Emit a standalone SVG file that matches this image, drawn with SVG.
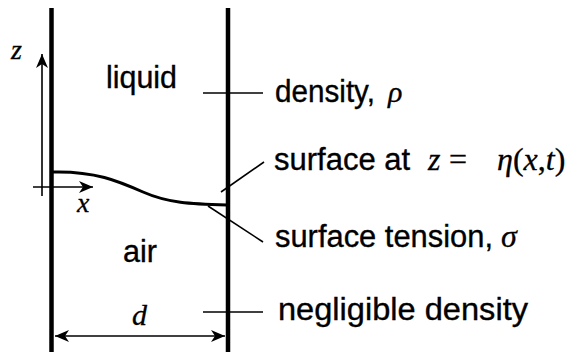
<svg xmlns="http://www.w3.org/2000/svg" width="568" height="352" viewBox="0 0 568 352">
<defs>
<style>
.wall{stroke:#000;stroke-width:4.5;fill:none}
.thin{stroke:#000;stroke-width:1.6;fill:none}
.lbl{font-family:"Liberation Sans",Arial,sans-serif;font-size:31px;fill:#000;stroke:#000;stroke-width:0.35}
.math{font-family:"Liberation Serif","Times New Roman",serif;font-style:italic;font-size:30px;fill:#000;stroke:#000;stroke-width:0.3}
.up{font-style:normal}
</style>
<marker id="ah" viewBox="0 0 14 12" refX="14" refY="6" markerWidth="14" markerHeight="12" markerUnits="userSpaceOnUse" orient="auto-start-reverse">
<path d="M0,0 L14,6 L0,12 L4,6 Z" fill="#000"/>
</marker>
</defs>
<rect width="568" height="352" fill="#fff"/>
<g id="walls">
<line class="wall" x1="51.5" y1="8" x2="51.5" y2="352"/>
<line class="wall" x1="228" y1="8" x2="228" y2="352"/>
</g>
<g id="surface">
<path class="wall" style="stroke-width:3" d="M53,172 C 95,171 118,181 143,192 S 190,204 227,205"/>
</g>
<g id="axes">
<line class="thin" x1="42" y1="196" x2="42" y2="54" marker-end="url(#ah)"/>
<line class="thin" x1="33" y1="187" x2="93" y2="187" marker-end="url(#ah)"/>
<text class="math" x="11" y="59" style="font-size:28px">z</text>
<text class="math" x="77" y="212" style="font-size:28px">x</text>
</g>
<g id="dimension">
<line class="thin" x1="55" y1="336" x2="225" y2="336" marker-start="url(#ah)" marker-end="url(#ah)"/>
<text class="math" x="132" y="325">d</text>
</g>
<g id="connectors">
<line class="thin" x1="203" y1="93" x2="263" y2="93"/>
<line class="thin" x1="221" y1="192" x2="264" y2="162"/>
<line class="thin" x1="208" y1="206" x2="263" y2="242"/>
<line class="thin" x1="203" y1="312" x2="263" y2="312"/>
</g>
<g id="liquid"><text class="lbl" x="106" y="88" textLength="71" lengthAdjust="spacingAndGlyphs">liquid</text></g>
<g id="air"><text class="lbl" x="123" y="262" textLength="34" lengthAdjust="spacingAndGlyphs">air</text></g>
<g id="density"><text class="lbl" x="275" y="102" textLength="100" lengthAdjust="spacingAndGlyphs">density,</text><text class="math" x="388" y="102">ρ</text></g>
<g id="surface-at"><text class="lbl" x="274" y="170">surface at</text><text class="math" y="170" style="font-size:32px"><tspan x="428">z</tspan><tspan class="up" x="449">=</tspan><tspan x="497">η</tspan><tspan class="up">(</tspan>x<tspan class="up">,</tspan>t<tspan class="up">)</tspan></text></g>
<g id="surface-tension"><text class="lbl" x="275" y="247" textLength="218" lengthAdjust="spacingAndGlyphs">surface tension,</text><text class="math" x="501" y="247" style="font-size:32px">σ</text></g>
<g id="negligible"><text class="lbl" x="278" y="320" textLength="250" lengthAdjust="spacingAndGlyphs">negligible density</text></g>
</svg>
